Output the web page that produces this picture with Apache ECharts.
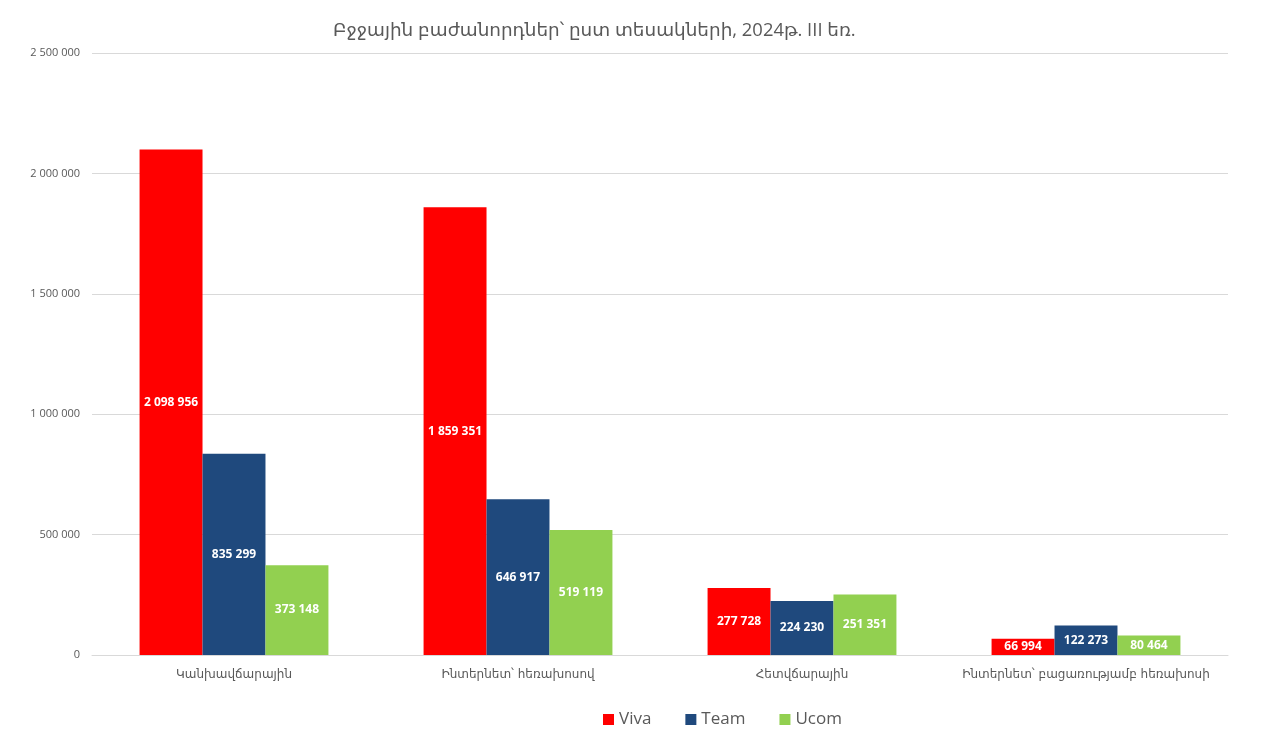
<!DOCTYPE html>
<html><head><meta charset="utf-8">
<script src="https://cdn.jsdelivr.net/npm/echarts@6/dist/echarts.min.js"></script>
<style>html,body{margin:0;padding:0;background:#fff}#c{width:1280px;height:745px}</style>
</head><body><div id="c"></div>
<script>
const categories = ['Կանխավճարային', 'Ինտերնետ՝ հեռախոսով', 'Հետվճարային', 'Ինտերնետ՝ բացառությամբ հեռախոսի'];
const viva = [2098956, 1859351, 277728, 66994];
const team = [835299, 646917, 224230, 122273];
const ucom = [373148, 519119, 251351, 80464];
const seriesNames = ['Viva', 'Team', 'Ucom'];
const colors = ['#FF0000', '#1F497D', '#92D050'];

function fmt(v){ return String(Math.round(v)).replace(/\B(?=(\d{3})+(?!\d))/g, ' '); }

const chart = echarts.init(document.getElementById('c'));
const font = "'Open Sans', 'DejaVu Sans', sans-serif";
const mk = (name, data, i) => ({
  name, type: 'bar', data, barGap: '0%', barCategoryGap: '33.5%',
  itemStyle: { color: colors[i] },
  label: { show: true, position: 'inside', color: '#fff', fontWeight: 'bold', fontSize: 12, fontFamily: font,
    formatter: p => fmt(p.value) }
});
chart.setOption({
  animation: false,
  title: { text: 'Բջջային բաժանորդներ՝ ըստ տեսակների, 2024թ. III եռ.', left: 328, top: 17,
    textStyle: { color: '#595959', fontSize: 18.4, fontWeight: 'normal', fontFamily: font } },
  legend: { bottom: 12, left: 598, itemWidth: 11, itemHeight: 11, itemGap: 34, icon: 'rect',
    textStyle: { color: '#595959', fontSize: 17, fontFamily: font }, data: seriesNames },
  grid: { left: 92, right: 52, top: 53, bottom: 90 },
  xAxis: { type: 'category', data: categories,
    axisLine: { lineStyle: { color: '#D9D9D9' } }, axisTick: { show: false },
    axisLabel: { interval: 0, color: '#595959', fontSize: 12, fontFamily: "'DejaVu Sans', sans-serif", margin: 14 } },
  yAxis: { type: 'value', min: 0, max: 2500000, interval: 500000,
    axisLine: { show: false }, axisTick: { show: false },
    splitLine: { lineStyle: { color: '#D9D9D9' } },
    axisLabel: { color: '#595959', fontSize: 11, fontFamily: font, margin: 12, formatter: v => fmt(v) } },
  series: [mk(seriesNames[0], viva, 0), mk(seriesNames[1], team, 1), mk(seriesNames[2], ucom, 2)]
});
</script></body></html>
